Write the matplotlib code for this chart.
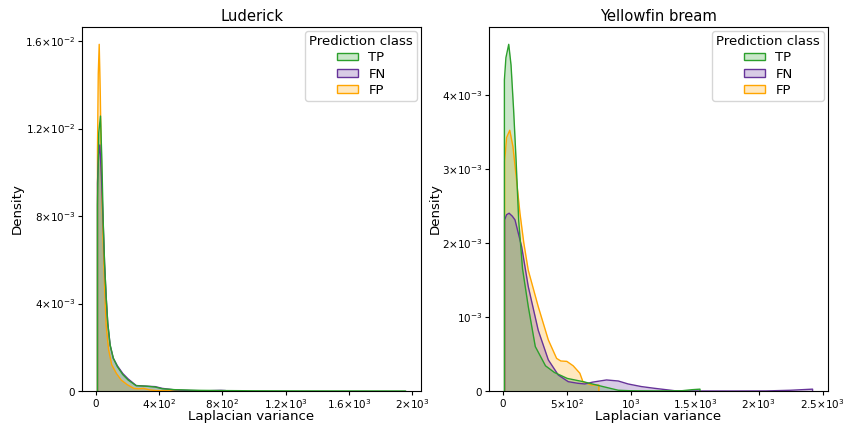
import numpy as np
import matplotlib
matplotlib.use("Agg")
import matplotlib.pyplot as plt
from matplotlib.patches import Patch

# data (density curves) ======================================================
classes = ["TP", "FN", "FP"]
colors = {"TP": "#2ca02c", "FN": "rebeccapurple", "FP": "orange"}

# Luderick
lud_tp_x = [10, 18, 29, 38, 46, 55, 65, 75, 90, 110, 136, 170, 204, 255, 320, 375, 420, 500, 650, 800, 1000, 1300, 1600, 1958]
lud_tp_y = [0.0085, 0.0118, 0.01257, 0.0105, 0.0078, 0.0058, 0.0043, 0.0031, 0.0021, 0.0015, 0.00111, 0.00075, 0.0005,
            0.00024, 0.00022, 0.00018, 0.0001, 0.00006, 0.00003, 0.00002, 0.00001, 0.000005, 0.000003, 0.000002]
lud_fn_x = [10, 17, 25, 35, 46, 55, 65, 75, 90, 110, 136, 170, 204, 255, 320, 375, 420, 500, 600, 700, 790, 820]
lud_fn_y = [0.0095, 0.0108, 0.01125, 0.0098, 0.0077, 0.0058, 0.0043, 0.0031, 0.0021, 0.0015, 0.00115, 0.0008, 0.00055,
            0.00025, 0.00022, 0.0002, 0.00012, 0.00005, 0.00002, 0.00001, 0.00003, 0.00002]
lud_fp_x = [10, 15, 21, 28, 36, 46, 55, 65, 80, 100, 130, 160, 200, 240, 270, 300, 340, 380, 450, 600]
lud_fp_y = [0.0110, 0.0145, 0.01585, 0.0135, 0.0095, 0.0068, 0.0048, 0.0030, 0.0019, 0.0012, 0.0008, 0.0005, 0.00028,
            0.00012, 0.0001, 0.00012, 0.00005, 0.00002, 0.00001, 0.000005]

# Yellowfin bream
yfb_tp_x = [8, 20, 42, 60, 80, 100, 120, 150, 195, 250, 330, 400, 500, 625, 755, 900, 1000, 1200, 1400, 1480, 1540]
yfb_tp_y = [0.0042, 0.0045, 0.00468, 0.0044, 0.0038, 0.0031, 0.0023, 0.00165, 0.00114, 0.0006, 0.00034, 0.00025,
            0.00017, 0.000126, 0.00007, 0.00001, 0.000003, 0.000001, 0.000004, 0.000018, 0.000025]
yfb_fn_x = [10, 25, 45, 70, 91, 143, 195, 273, 352, 430, 508, 580, 638, 700, 808, 900, 977, 1080, 1185, 1341, 1500,
            1800, 2058, 2250, 2422]
yfb_fn_y = [0.00231, 0.00238, 0.0024, 0.00236, 0.00231, 0.00195, 0.00141, 0.00082, 0.00042, 0.000216, 0.000126,
            0.000105, 0.000095, 0.00012, 0.000149, 0.000135, 0.000095, 0.00006, 0.000036, 0.000004, 0.0000005,
            0.0000002, 0.000001, 0.00001, 0.000025]
yfb_fp_x = [10, 25, 50, 75, 100, 130, 160, 195, 273, 352, 417, 450, 497, 547, 599, 623, 690, 748]
yfb_fp_y = [0.0031, 0.00342, 0.00352, 0.0033, 0.0029, 0.0024, 0.0020, 0.00163, 0.00114, 0.00069, 0.00044, 0.000405,
            0.0004, 0.00034, 0.00024, 0.000126, 0.00008, 0.00008]

lud_xticks = [0, 400, 800, 1200, 1600, 2000]
lud_xlabels = [r"$0$", r"$4{\times}10^{2}$", r"$8{\times}10^{2}$", r"$1.2{\times}10^{3}$", r"$1.6{\times}10^{3}$", r"$2{\times}10^{3}$"]
lud_yticks = [0, 0.004, 0.008, 0.012, 0.016]
lud_ylabels = [r"$0$", r"$4{\times}10^{-3}$", r"$8{\times}10^{-3}$", r"$1.2{\times}10^{-2}$", r"$1.6{\times}10^{-2}$"]

yfb_xticks = [0, 500, 1000, 1500, 2000, 2500]
yfb_xlabels = [r"$0$", r"$5{\times}10^{2}$", r"$10^{3}$", r"$1.5{\times}10^{3}$", r"$2{\times}10^{3}$", r"$2.5{\times}10^{3}$"]
yfb_yticks = [0, 0.001, 0.002, 0.003, 0.004]
yfb_ylabels = [r"$0$", r"$10^{-3}$", r"$2{\times}10^{-3}$", r"$3{\times}10^{-3}$", r"$4{\times}10^{-3}$"]

panels = [
    ("Luderick", {"TP": (lud_tp_x, lud_tp_y), "FN": (lud_fn_x, lud_fn_y), "FP": (lud_fp_x, lud_fp_y)},
     lud_xticks, lud_xlabels, lud_yticks, lud_ylabels, -0.172),
    ("Yellowfin bream", {"TP": (yfb_tp_x, yfb_tp_y), "FN": (yfb_fn_x, yfb_fn_y), "FP": (yfb_fp_x, yfb_fp_y)},
     yfb_xticks, yfb_xlabels, yfb_yticks, yfb_ylabels, -0.14),
]

# plot ========================================================================
fig = plt.figure(figsize=(8.46, 4.25), dpi=100)
ax_pos = [[0.097, 0.08, 0.4007, 0.8565], [0.578, 0.08, 0.4007, 0.8565]]

for pos, (title, curves, xt, xl, yt, yl, ylab_x) in zip(ax_pos, panels):
    ax = fig.add_axes(pos)
    # drawn in reverse order like seaborn's hue iteration
    for c in classes[::-1]:
        x = np.array(curves[c][0])
        y = np.array(curves[c][1])
        ax.fill_between(x, 0, y, color=colors[c], alpha=0.25, linewidth=0)
        ax.plot(np.r_[x[0], x, x[-1]], np.r_[0, y, 0], color=colors[c], lw=1)
    ax.set_ylim(bottom=0)
    ax.set_xticks(xt, xl, fontsize=7.5)
    ax.set_yticks(yt, yl, fontsize=7.5)
    ax.tick_params(axis="both", length=3, pad=1.5)
    ax.set_title(title, fontsize=10.6, pad=4)
    ax.set_xlabel("Laplacian variance", fontsize=9.6)
    ax.xaxis.set_label_coords(0.5, -0.051)
    ax.set_ylabel("Density", fontsize=9.6)
    ax.yaxis.set_label_coords(ylab_x, 0.5)
    handles = [Patch(facecolor=matplotlib.colors.to_rgba(colors[c], 0.25), edgecolor=colors[c]) for c in classes]
    ax.legend(handles, classes, title="Prediction class", loc="upper right", fontsize=9.5,
              title_fontsize=9.5, borderaxespad=0.3, handlelength=1.6, handleheight=0.5,
              labelspacing=0.25, borderpad=0.3)

fig.savefig("out.png", dpi=100)
